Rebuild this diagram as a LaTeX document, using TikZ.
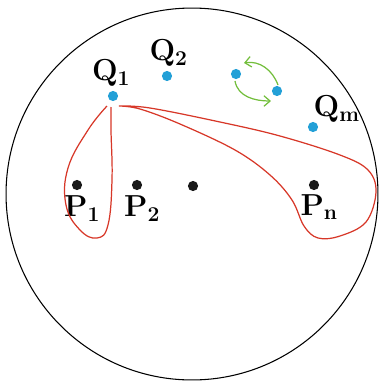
\documentclass[tikz,border=0pt]{standalone}
\usepackage{amsmath}
\usepackage{xcolor}
\usepackage{tikz}
\usetikzlibrary{arrows.meta,positioning,calc}

\definecolor{dotblue}{RGB}{35,160,215}
\definecolor{loopred}{RGB}{215,55,40}
\definecolor{swapgreen}{RGB}{115,190,60}

\begin{document}
\begin{tikzpicture}[x=0.02cm, y=-0.02cm]
        \tikzset{
            qdot/.style={circle, fill=dotblue, inner sep=0pt, minimum size=5.8pt},
            pdot/.style={circle, fill=black!90, inner sep=0pt, minimum size=5.8pt},
            lbl/.style={inner sep=1pt, font=\LARGE},
            loop/.style={draw=loopred, line width=0.7pt},
            swap/.style={draw=swapgreen, line width=0.7pt, -{Straight Barb[length=3.5pt, width=6pt]}}
        }
        \useasboundingbox (0,0) rectangle (381,383);

        % Disc
        \draw [line width=0.6pt] (192,194) circle [radius=3.72cm];

        % Nodes
        \node [qdot] (q1) at (113,96) {};
        \node [qdot] (q2) at (167,76) {};
        \node [qdot] (qa) at (236,74) {};
        \node [qdot] (qb) at (277,91) {};
        \node [qdot] (qm) at (313,127) {};

        \node [pdot] (p1) at (77,185) {};
        \node [pdot] (p2) at (137,185) {};
        \node [pdot] (p3) at (193,186) {};
        \node [pdot] (pn) at (314,185) {};

        % Labels
        \node [lbl, above=1pt of q1, xshift=-1pt] {$\mathbf{Q_1}$};
        \node [lbl, above=1pt of q2, xshift=1pt] {$\mathbf{Q_2}$};
        \node [lbl, above right=-1pt and -3pt of qm] {$\mathbf{Q_m}$};
        \node [lbl, below=2pt of p1, xshift=3pt] {$\mathbf{P_1}$};
        \node [lbl, below=2pt of p2, xshift=3pt] {$\mathbf{P_2}$};
        \node [lbl, below=1pt of pn, xshift=3pt] {$\mathbf{P_n}$};

        % Exchange of two points
        \draw [swap] ($(qb)+(1,-6)$) to [out=110, in=10] ($(qa)+(8,-11)$);
        \draw [swap] ($(qa)+(-1,7)$) to [out=-80, in=180] ($(qb)+(-6,10)$);

        % Loops based at Q_1
        \coordinate (l1) at ($(q1)+(-6,10)$);
        \coordinate (l2) at ($(q1)+(-2,11)$);
        \draw [loop] plot [smooth, tension=0.7] coordinates {
            (l1) (88,130) (68,168) (66,205) (80,230) (97,238) (108,225) (112,180) (111,130) (l2)};

        \coordinate (r1) at ($(q1)+(6,10)$);
        \draw [loop] plot [smooth, tension=0.6] coordinates {
            (r1) (150,108) (220,122) (280,136) (340,155) (368,170) (376,192) (366,222) (340,236)
            (318,238) (304,226) (292,200) (270,175) (235,150) (180,124) (140,109) (r1)};
\end{tikzpicture}
\end{document}
